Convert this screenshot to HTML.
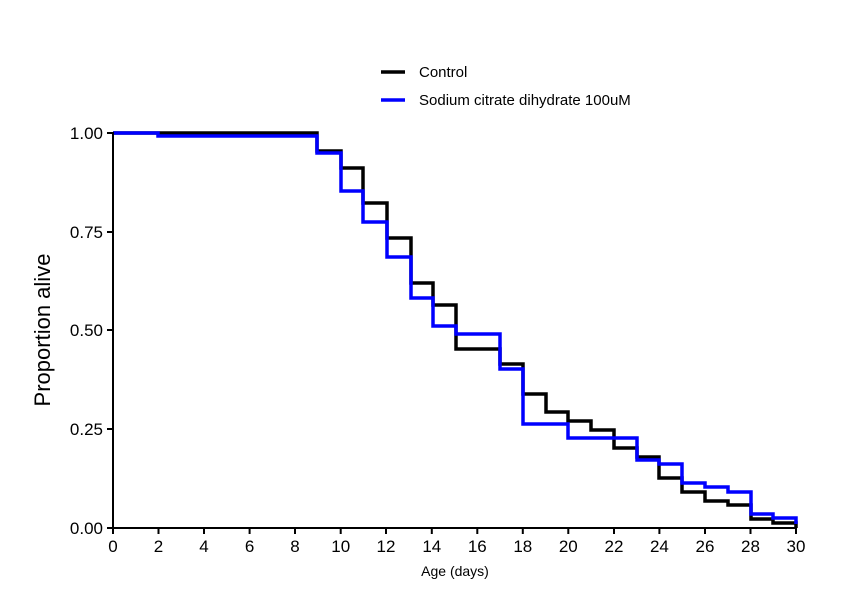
<!DOCTYPE html><html><head><style>body{margin:0;background:#fff}</style></head><body>
<svg width="850" height="610" xmlns="http://www.w3.org/2000/svg" font-family="Liberation Sans, sans-serif">
<g fill="none" stroke-width="3.5">
<polyline stroke="#000" points="113,133 317,133 317,151 341,151 341,168 363,168 363,203 387,203 387,238 411,238 411,283 433,283 433,305 456,305 456,349 500,349 500,364 523,364 523,394 546,394 546,412 568,412 568,421 591,421 591,430 614,430 614,448 637,448 637,457 659,457 659,478 682,478 682,492 705,492 705,501 728,501 728,505 751,505 751,519 773,519 773,523 796,523 796,528"/>
<polyline stroke="#0000ff" points="113,133 158,133 158,136 317,136 317,153 341,153 341,191 363,191 363,222 387,222 387,257 411,257 411,298 433,298 433,326 456,326 456,334 500,334 500,369 523,369 523,424 568,424 568,438 637,438 637,460 659,460 659,464 682,464 682,483 705,483 705,487 728,487 728,492 751,492 751,514 773,514 773,518 796,518 796,524"/>
</g>
<g stroke="#000" stroke-width="2">
<line x1="113" y1="132" x2="113" y2="529"/><line x1="112" y1="528" x2="797" y2="528"/>
<line x1="107" y1="133" x2="113" y2="133"/><line x1="107" y1="232" x2="113" y2="232"/><line x1="107" y1="330" x2="113" y2="330"/><line x1="107" y1="429" x2="113" y2="429"/><line x1="107" y1="528" x2="113" y2="528"/>
<line x1="113" y1="528" x2="113" y2="534"/><line x1="158.5" y1="528" x2="158.5" y2="534"/><line x1="204" y1="528" x2="204" y2="534"/><line x1="249.6" y1="528" x2="249.6" y2="534"/><line x1="295" y1="528" x2="295" y2="534"/><line x1="340.7" y1="528" x2="340.7" y2="534"/><line x1="386" y1="528" x2="386" y2="534"/><line x1="431.8" y1="528" x2="431.8" y2="534"/><line x1="477.3" y1="528" x2="477.3" y2="534"/><line x1="522.8" y1="528" x2="522.8" y2="534"/><line x1="568.3" y1="528" x2="568.3" y2="534"/><line x1="614" y1="528" x2="614" y2="534"/><line x1="659.4" y1="528" x2="659.4" y2="534"/><line x1="705" y1="528" x2="705" y2="534"/><line x1="750.5" y1="528" x2="750.5" y2="534"/><line x1="796" y1="528" x2="796" y2="534"/>
</g>
<g font-size="17" text-anchor="end" fill="#000">
<text x="103" y="139">1.00</text><text x="103" y="238">0.75</text><text x="103" y="336">0.50</text><text x="103" y="435">0.25</text><text x="103" y="534">0.00</text>
</g>
<g font-size="17" text-anchor="middle" fill="#000">
<text x="113" y="552">0</text><text x="158.5" y="552">2</text><text x="204" y="552">4</text><text x="249.6" y="552">6</text><text x="295" y="552">8</text><text x="340.7" y="552">10</text><text x="386" y="552">12</text><text x="431.8" y="552">14</text><text x="477.3" y="552">16</text><text x="522.8" y="552">18</text><text x="568.3" y="552">20</text><text x="614" y="552">22</text><text x="659.4" y="552">24</text><text x="705" y="552">26</text><text x="750.5" y="552">28</text><text x="796" y="552">30</text>
</g>
<text x="455" y="576" font-size="14" text-anchor="middle">Age (days)</text>
<text transform="translate(50,330) rotate(-90)" font-size="22" text-anchor="middle">Proportion alive</text>
<line x1="381" y1="72" x2="405" y2="72" stroke="#000" stroke-width="3.5"/>
<line x1="381" y1="100" x2="405" y2="100" stroke="#0000ff" stroke-width="3.5"/>
<text x="419" y="77" font-size="15">Control</text>
<text x="419" y="105" font-size="15">Sodium citrate dihydrate 100uM</text>
</svg>
</body></html>
